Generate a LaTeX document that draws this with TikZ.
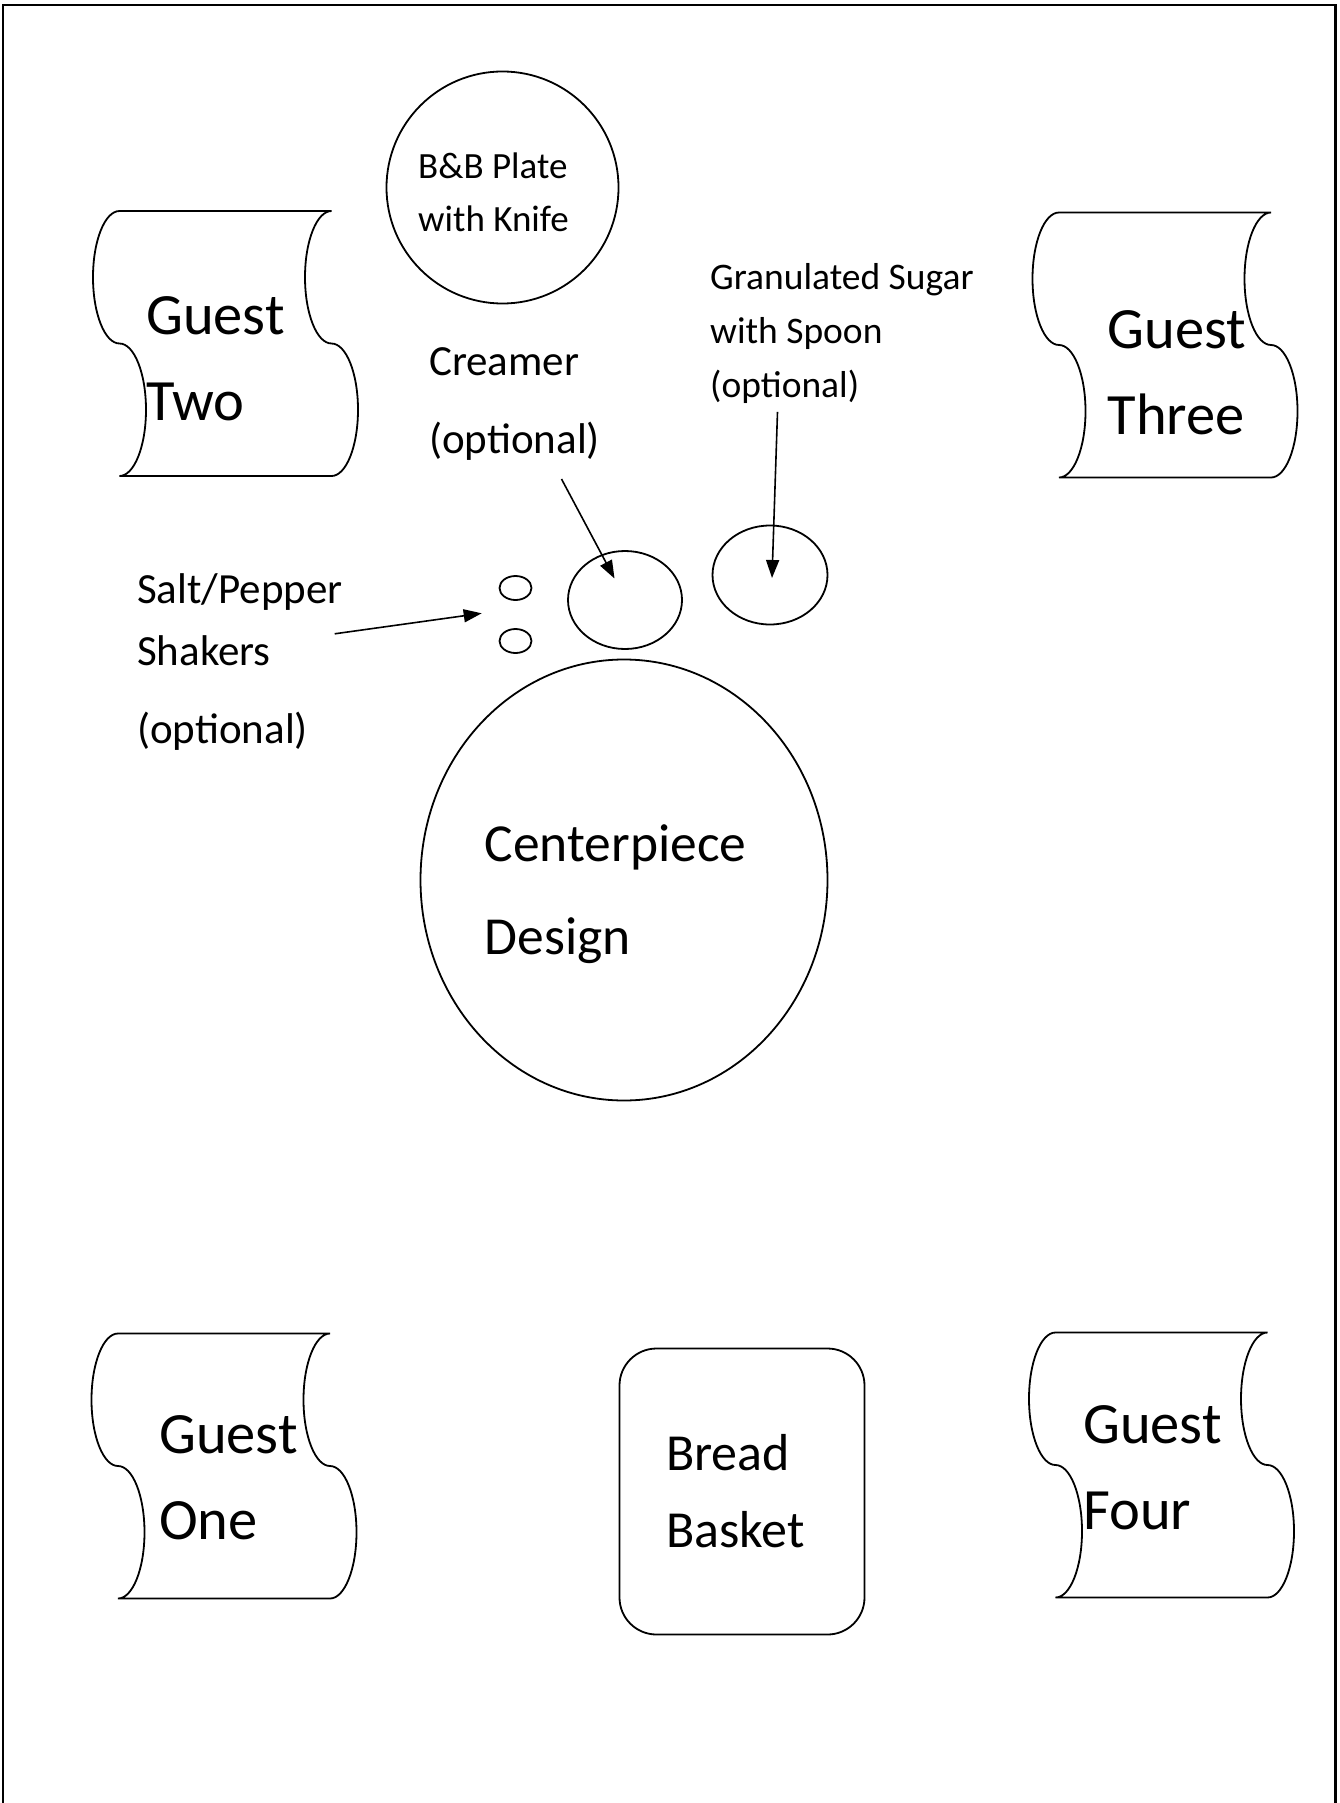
\documentclass[tikz,border=0pt]{standalone}
\usepackage{fontspec}
\setmainfont{Carlito}
\usetikzlibrary{arrows.meta,shapes.geometric}

\tikzset{
  outline/.style={line width=1.8pt},
  dish/.style={draw, ellipse, inner sep=0pt, outline},
  txt/.style={anchor=base west, inner sep=0pt, align=left},
  pointer/.style={-{Triangle[length=18pt,width=13pt]}, line width=1.6pt},
  tape/.pic={
    \draw[outline] (0,0)
      arc[start angle=-90, end angle=-270, x radius=26.5, y radius=66.25]
      arc[start angle=-90, end angle=90, x radius=26.5, y radius=66.25]
      -- ++(212,0)
      arc[start angle=90, end angle=-90, x radius=26.5, y radius=66.25]
      arc[start angle=90, end angle=270, x radius=26.5, y radius=66.25]
      -- cycle;
  }
}

\begin{document}
\begin{tikzpicture}[x=1pt, y=-1pt]
    \useasboundingbox (0,0) rectangle (1340,1803);
    % table edge
    \draw[line width=2.4pt] (3,1803) -- (3,5) -- (1335.5,5) -- (1335.5,1803);
    %%%%%%%%%%
    \pic at (119.5,211) {tape};
    \pic at (1059,212.5) {tape};
    \pic at (118,1333.5) {tape};
    \pic at (1055.5,1332.5) {tape};
    % nodes sit on the baseline of their last line
    \node[txt, font=\fontsize{58.5}{86}\selectfont] (guesttwo) at (146,420) {Guest\\Two};
    \node[txt, font=\fontsize{58.5}{86}\selectfont] (guestthree) at (1107.5,434) {Guest\\Three};
    \node[txt, font=\fontsize{58.5}{86}\selectfont] (guestone) at (159,1539) {Guest\\One};
    \node[txt, font=\fontsize{58.5}{86}\selectfont] (guestfour) at (1083,1529) {Guest\\Four};
    %%%%%%%%%%
    \node[draw, circle, outline, inner sep=0pt, minimum size=232pt] (bbplate) at (502.5,187.5) {};
    \node[txt, font=\fontsize{37}{53}\selectfont] (bbtext) at (418,232) {B\&B Plate\\with Knife};
    \node[dish, minimum width=114pt, minimum height=98pt] (creamer) at (625,600) {};
    \node[dish, minimum width=115pt, minimum height=99pt] (sugar) at (770,575) {};
    \node[dish, minimum width=32pt, minimum height=24pt] (salt) at (515.5,588) {};
    \node[dish, minimum width=32pt, minimum height=24pt] (pepper) at (515.5,641) {};
    \node[dish, minimum width=407pt, minimum height=441pt] (centerpiece) at (624,880) {};
    \node[draw, outline, rectangle, rounded corners=37pt, minimum width=245pt, minimum height=286pt] (bread) at (742,1491.5) {};
    %%%%%%%%%%
    \node[txt, font=\fontsize{43}{78}\selectfont] (creamertext) at (429,453) {Creamer\\(optional)};
    \node[txt, font=\fontsize{37.5}{54}\selectfont] (sugartext) at (710,397) {Granulated Sugar\\with Spoon\\(optional)};
    \node[txt, font=\fontsize{43}{62}\selectfont] (salttext) at (137,743.5) {Salt/Pepper\\Shakers\\[16pt](optional)};
    \node[txt, font=\fontsize{53.5}{93}\selectfont] (centertext) at (484.5,954) {Centerpiece\\Design};
    \node[txt, font=\fontsize{52}{77}\selectfont] (breadtext) at (666,1547) {Bread\\Basket};
    %%%%%%%%%%
    \coordinate (creamerfrom) at (561.5,479);
    \coordinate (creamerto) at (614.5,578.5);
    \coordinate (sugarfrom) at (777.5,411.8);
    \coordinate (sugarto) at (772,578);
    \coordinate (saltfrom) at (334.7,633.8);
    \coordinate (saltto) at (481.7,613.3);
    \draw[pointer] (creamerfrom) -- (creamerto);
    \draw[pointer] (sugarfrom) -- (sugarto);
    \draw[pointer] (saltfrom) -- (saltto);
\end{tikzpicture}
\end{document}
